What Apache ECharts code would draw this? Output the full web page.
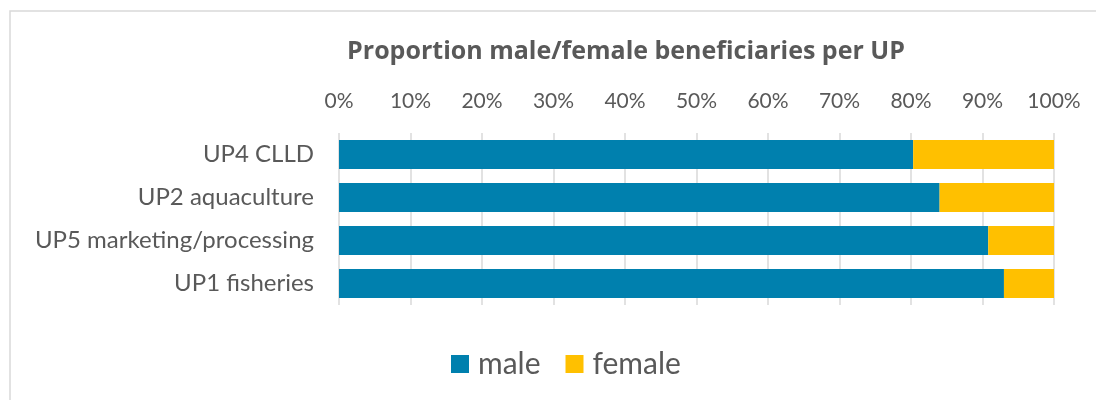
<!DOCTYPE html>
<html><head><meta charset="utf-8">
<script src="https://cdn.jsdelivr.net/npm/echarts@6/dist/echarts.min.js"></script>
<style>html,body{margin:0;padding:0;background:#fff}#c{width:1096px;height:400px}</style>
</head><body><div id="c"></div>
<script>
const categories = ['UP4 CLLD', 'UP2 aquaculture', 'UP5 marketing/processing', 'UP1 fisheries'];
const maleValues = [80.3, 84.0, 90.8, 93.0];
const femaleValues = [19.7, 16.0, 9.2, 7.0];
const tickLabels = ['0%','10%','20%','30%','40%','50%','60%','70%','80%','90%','100%'];

const FONT = 'Lato';
const chart = echarts.init(document.getElementById('c'), null, {renderer: 'canvas'});
chart.setOption({
  animation: false,
  backgroundColor: '#fff',
  graphic: [{
    type: 'rect', shape: {x: 10, y: 11, width: 1200, height: 500},
    style: {fill: 'none', stroke: '#D9D9D9', lineWidth: 1.5}, silent: true, z: -1
  }],
  title: {
    text: 'Proportion male/female beneficiaries per UP',
    left: 621, top: 34, textAlign: 'center',
    textStyle: {fontFamily: 'Open Sans', fontSize: 25, fontWeight: 'bold', color: '#595959'}
  },
  legend: {
    data: ['male', 'female'], top: 344, itemWidth: 18, itemHeight: 18, itemGap: 25,
    icon: 'rect', left: 446,
    textStyle: {fontFamily: FONT, fontSize: 30, color: '#595959', padding: [0, 0, 0, 4]}
  },
  grid: {left: 339, right: 42, top: 133, bottom: 95, containLabel: false},
  xAxis: {
    type: 'value', position: 'top', min: 0, max: 100, interval: 10,
    axisLabel: {fontFamily: FONT, fontSize: 21, color: '#595959', margin: 21,
      formatter: v => tickLabels[Math.round(v / 10)]},
    splitLine: {lineStyle: {color: '#D9D9D9', width: 1.5}},
    axisLine: {show: false}, axisTick: {show: false}
  },
  yAxis: {
    type: 'category', data: categories, inverse: true,
    axisLabel: {fontFamily: FONT, fontSize: 24, color: '#595959', margin: 25},
    axisLine: {show: false}, axisTick: {show: false}
  },
  series: [
    {name: 'male', type: 'bar', stack: 's', data: maleValues, barWidth: '67%',
      itemStyle: {color: '#0080AE'}},
    {name: 'female', type: 'bar', stack: 's', data: femaleValues, barWidth: '67%',
      itemStyle: {color: '#FFC000'}}
  ]
});
</script></body></html>
